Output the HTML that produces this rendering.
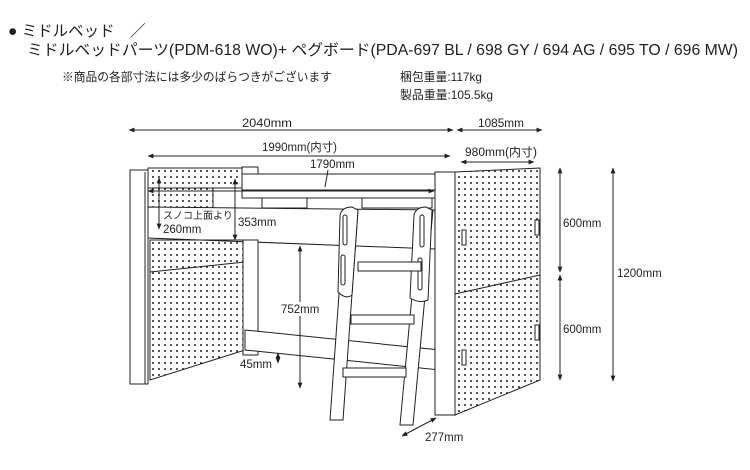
<!DOCTYPE html>
<html><head><meta charset="utf-8"><style>
html,body{margin:0;padding:0;background:#fff;width:750px;height:470px;overflow:hidden}
svg{display:block}
text{font-family:"Liberation Sans","Noto Sans CJK JP",sans-serif;fill:#231f20}
</style></head><body>
<svg width="750" height="470" viewBox="0 0 750 470" xmlns="http://www.w3.org/2000/svg">
<defs>
<pattern id="dots" width="6" height="6" patternUnits="userSpaceOnUse"><circle cx="3" cy="3" r="1" fill="#231f20"/></pattern>
<marker id="a" viewBox="0 0 10 10" refX="9" refY="5" markerWidth="6" markerHeight="6" orient="auto-start-reverse"><path d="M0,1 L10,5 L0,9 z" fill="#231f20"/></marker>
</defs>
<text x="8" y="36" font-size="15.5">● ミドルベッド　／</text>
<text x="27" y="55" font-size="15.5" textLength="711" lengthAdjust="spacingAndGlyphs">ミドルベッドパーツ(PDM-618 WO)+  ペグボード(PDA-697 BL / 698 GY / 694 AG / 695 TO / 696 MW)</text>
<text x="62" y="81" font-size="12" textLength="270" lengthAdjust="spacingAndGlyphs">※商品の各部寸法には多少のばらつきがございます</text>
<text x="400" y="81" font-size="12" textLength="82" lengthAdjust="spacingAndGlyphs">梱包重量:117kg</text>
<text x="400" y="99" font-size="12" textLength="93" lengthAdjust="spacingAndGlyphs">製品重量:105.5kg</text>

<g stroke="#231f20" stroke-width="1" fill="#fff">
<!-- left headboard -->
<rect x="148" y="168" width="110" height="20" fill="url(#dots)"/>
<rect x="148" y="188" width="65" height="20" fill="url(#dots)"/>
<rect x="242" y="167" width="16" height="10" fill="#fff"/>
<!-- top rails -->
<polygon points="242,174 435,174 435,190 242,190" fill="#fff"/>
<polygon points="242,190 435,190 435,198 242,198" fill="#fff"/>
<rect x="262" y="198" width="45" height="10"/>
<rect x="362" y="198" width="70" height="10"/>
<!-- side board -->
<polygon points="148,207 435,210 435,249 148,238" fill="#fff"/>
<!-- lower pegboard left -->
<polygon points="150,240 245,240 245,350 150,380" fill="url(#dots)"/>
<line x1="150" y1="272" x2="245" y2="262"/>
<rect x="243" y="240" width="15" height="115" fill="#fff"/>
<!-- lower rail -->
<polygon points="245,330 440,350 440,370 245,350" fill="#fff"/>
<!-- left post -->
<rect x="130" y="170" width="18" height="214" fill="#fff"/>
<line x1="145" y1="172" x2="145" y2="384"/>
<!-- ladder -->
<polygon points="345,210 358,210 343,420 330,420" fill="#fff"/>
<path d="M340,215 Q342,207 352,207 L358,210 L352,295 Q346,300 338,292 Z" fill="#fff"/>
<rect x="343" y="215" width="4" height="30" rx="2"/>
<rect x="341" y="255" width="4" height="30" rx="2"/>
<polygon points="420,210 433,210 413,425 400,425" fill="#fff"/>
<path d="M414,215 Q416,207 426,207 L432,210 L428,300 Q420,304 410,298 Z" fill="#fff"/>
<rect x="420" y="215" width="4" height="32" rx="2"/>
<rect x="418" y="258" width="4" height="32" rx="2"/>
<rect x="358" y="262" width="63" height="9" fill="#fff"/>
<rect x="351" y="315" width="63" height="9" fill="#fff"/>
<rect x="343" y="368" width="63" height="9" fill="#fff"/>
<!-- right post -->
<rect x="435" y="172" width="20" height="243" fill="#fff"/>
<!-- right pegboard -->
<polygon points="455,172 540,168 540,380 455,415" fill="url(#dots)"/>
<line x1="455" y1="294" x2="540" y2="275"/>
<rect x="462" y="230" width="4" height="15" fill="#fff"/>
<rect x="535" y="220" width="4" height="15" fill="#fff"/>
<rect x="462" y="350" width="4" height="15" fill="#fff"/>
<rect x="535" y="325" width="4" height="15" fill="#fff"/>
</g>

<g stroke="#231f20" stroke-width="1" fill="none">
<line x1="129" y1="130" x2="453" y2="130" marker-start="url(#a)" marker-end="url(#a)"/>
<line x1="457" y1="130" x2="542" y2="130" marker-start="url(#a)" marker-end="url(#a)"/>
<line x1="148" y1="156" x2="450" y2="156" marker-start="url(#a)" marker-end="url(#a)"/>
<line x1="461" y1="162" x2="534" y2="162" marker-start="url(#a)" marker-end="url(#a)"/>
<line x1="148" y1="191" x2="434" y2="191" marker-start="url(#a)" marker-end="url(#a)"/>
<line x1="328" y1="170" x2="325" y2="187"/>
<line x1="560" y1="168" x2="560" y2="272" marker-start="url(#a)" marker-end="url(#a)"/>
<line x1="560" y1="275" x2="560" y2="380" marker-start="url(#a)" marker-end="url(#a)"/>
<line x1="613" y1="168" x2="613" y2="381" marker-start="url(#a)" marker-end="url(#a)"/>
<line x1="159" y1="178" x2="159" y2="229" marker-start="url(#a)" marker-end="url(#a)"/>
<line x1="235" y1="179" x2="235" y2="240" marker-start="url(#a)" marker-end="url(#a)"/>
<line x1="300" y1="246" x2="300" y2="388" marker-start="url(#a)" marker-end="url(#a)"/>
<line x1="278" y1="353" x2="278" y2="363" marker-start="url(#a)" marker-end="url(#a)"/>
<line x1="402" y1="436" x2="436" y2="418" marker-start="url(#a)" marker-end="url(#a)"/>
</g>
<text x="242" y="127" font-size="11.5" textLength="50" lengthAdjust="spacingAndGlyphs">2040mm</text>
<text x="478" y="127" font-size="11.5" textLength="46" lengthAdjust="spacingAndGlyphs">1085mm</text>
<text x="262" y="151" font-size="11.5" textLength="75" lengthAdjust="spacingAndGlyphs">1990mm(内寸)</text>
<text x="465" y="156" font-size="11.5" textLength="72" lengthAdjust="spacingAndGlyphs">980mm(内寸)</text>
<text x="310" y="168" font-size="11.5">1790mm</text>
<text x="163" y="219" font-size="10">スノコ上面より</text>
<text x="163" y="233" font-size="11.5">260mm</text>
<text x="238" y="226" font-size="11.5">353mm</text>
<rect x="280" y="302" width="40" height="14" fill="#fff"/>
<text x="281" y="313" font-size="11.5">752mm</text>
<text x="240" y="368" font-size="11.5">45mm</text>
<text x="425" y="441" font-size="11.5">277mm</text>
<text x="563" y="227" font-size="11.5">600mm</text>
<text x="563" y="333" font-size="11.5">600mm</text>
<text x="617" y="277" font-size="11.5">1200mm</text>
</svg>
</body></html>
